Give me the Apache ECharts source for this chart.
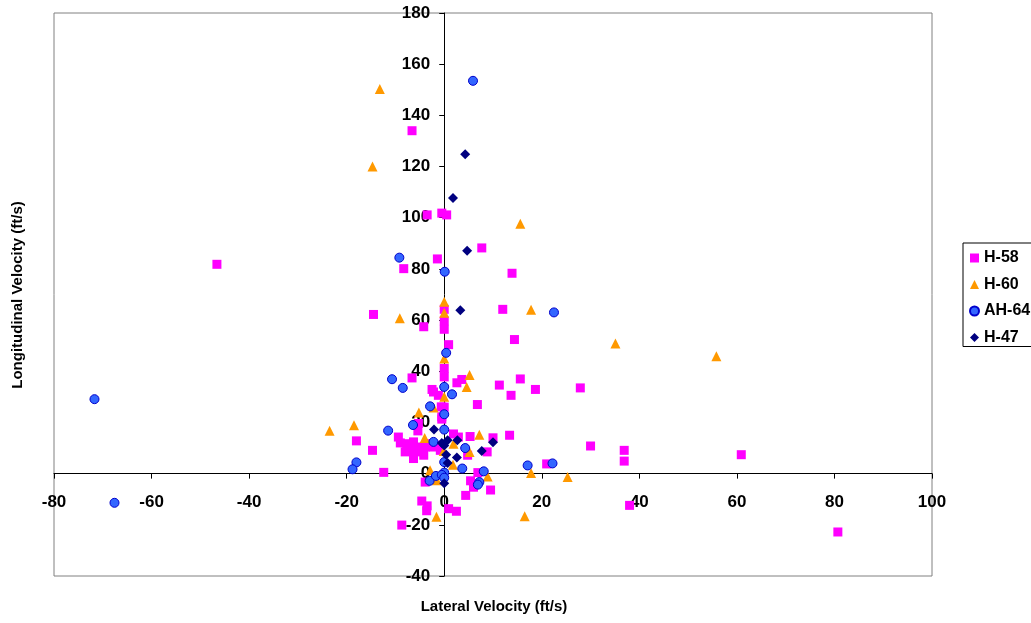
<!DOCTYPE html>
<html>
<head>
<meta charset="utf-8">
<script src="https://cdn.jsdelivr.net/npm/echarts@6/dist/echarts.min.js"></script>
<style>
html,body{margin:0;padding:0;background:#fff;}
#chart{width:1031px;height:623px;}
</style>
</head>
<body>
<div id="chart"></div>
<script>
// Tick settings
const xTicks = { min: -80, max: 100, interval: 20 };
const yTicks = { min: -40, max: 180, interval: 20 };
const seriesNames = ['H-58', 'H-60', 'AH-64', 'H-47'];
const xTitle = 'Lateral Velocity (ft/s)';
const yTitle = 'Longitudinal Velocity (ft/s)';

// [lateral, longitudinal]
const h58 = [
  [-6.6,134],[-46.6,81.8],[-3.5,101.1],[-0.5,101.8],[0.5,101.1],[7.7,88.2],[-1.4,83.9],[-8.3,80.1],[13.9,78.3],
  [12,64.2],[0,64.2],[-14.5,62.2],[0,59.7],[0,56.4],[-4.2,57.4],[0.9,50.4],[14.4,52.4],[0,41.1],[0,37.8],
  [3.6,36.8],[2.6,35.5],[-6.6,37.4],[15.6,37],[11.3,34.6],[-2.5,32.9],[-1.2,30.6],[-2.2,31.9],[13.7,30.6],
  [18.7,32.9],[27.9,33.5],[6.8,27],[-0.6,26.1],[0,26],[-0.5,22.2],[-0.5,21.3],[-5.3,19.6],[-5.4,16.7],[-18,12.8],
  [-9.4,14.3],[-9,12],[-14.7,9.1],[1.9,15.5],[2.9,14.3],[5.3,14.5],[10,14],[13.4,15],[-7.7,11.7],[-6.3,12.4],
  [-5.6,10.4],[-7,9.8],[-8,8.5],[-6.3,7.2],[-5.1,8.5],[-3.9,10.4],[-3.5,11.7],[-2.2,10.4],[-1.2,11.1],[-0.8,9.1],
  [-4.2,7.2],[8.8,8.5],[4.8,7.2],[-6.3,5.9],[-12.4,0.5],[6.9,0.4],[21,3.8],[30,10.8],[36.9,9.1],[36.9,4.9],
  [60.9,7.4],[-3.9,-3.3],[5.4,-2.8],[6,-5.3],[9.5,-6.4],[4.4,-8.5],[-4.6,-10.7],[-3.5,-12.6],[-3.6,-14.5],
  [0.9,-13.7],[2.5,-14.7],[38,-12.4],[80.7,-22.8],[-8.7,-20.1]
];
const h60 = [
  [-13.2,150.3],[-14.7,120],[15.6,97.6],[0,67.2],[0,62.9],[17.8,64],[-9.1,60.7],[0,45],[5.2,38.5],[4.6,33.9],
  [0,30],[-2.2,25.8],[-5.2,23.9],[-18.5,18.9],[-23.5,16.8],[35.1,50.9],[55.8,45.9],[-4,13.9],[7.2,15.2],
  [1.9,11.7],[5.2,8.5],[-0.1,8.8],[1.8,3.5],[-2.9,1.3],[17.8,0.2],[8.9,-1.1],[25.3,-1.3],[-1.5,-2.6],
  [-1.6,-16.8],[16.5,-16.7]
];
const ah64 = [
  [5.9,153.5],[-9.2,84.4],[0.1,78.9],[22.5,63],[0.4,47.2],[-10.7,36.9],[-8.5,33.5],[0,33.9],[1.6,31],
  [-2.9,26.3],[0,23.2],[-6.4,19],[-11.5,16.8],[0,17.2],[-2.2,12.4],[4.3,10],[0,4.5],[3.7,2],[17.1,3.2],
  [22.2,4],[-18,4.4],[-18.8,1.7],[8.1,0.9],[0,0.4],[-3,-2.8],[-1.7,-0.9],[-0.5,-0.5],[0,-1.6],[7.2,-3.3],
  [6.9,-4.3],[-71.7,29.1],[-67.6,-11.4]
];
const h47 = [
  [4.3,124.8],[1.8,107.7],[4.7,87.1],[3.3,63.8],[-2.1,17.2],[-0.5,12],[0.7,13],[0,11],[2.7,13],[10,12.3],
  [7.7,8.8],[0.4,7.4],[2.6,6.3],[0.7,4.2],[0,-3.8]
];

const chart = echarts.init(document.getElementById('chart'), null, { renderer: 'canvas' });
const FONT = 'Liberation Sans, Arial, sans-serif';

chart.setOption({
  animation: false,
  backgroundColor: '#fff',
  grid: { left: 54, right: 99, top: 13, bottom: 47, show: true, borderColor: '#808080', borderWidth: 1, containLabel: false },
  xAxis: {
    type: 'value', min: xTicks.min, max: xTicks.max, interval: xTicks.interval,
    axisLine: { onZero: false, lineStyle: { color: '#000', width: 1 } },
    axisTick: { show: true, inside: false, length: 5, lineStyle: { color: '#000' } },
    axisLabel: { color: '#000', fontFamily: FONT, fontWeight: 'bold', fontSize: 17, margin: 20 },
    splitLine: { show: false }
  },
  yAxis: {
    type: 'value', min: yTicks.min, max: yTicks.max, interval: yTicks.interval,
    axisLine: { onZero: false, lineStyle: { color: '#000', width: 1 } },
    axisTick: { show: true, inside: false, length: 5, lineStyle: { color: '#000' } },
    axisLabel: { color: '#000', fontFamily: FONT, fontWeight: 'bold', fontSize: 17, margin: 14 },
    splitLine: { show: false }
  },
  legend: {
    orient: 'vertical', left: 963, top: 243,
    padding: [7, 30, 1, 6],
    borderColor: '#000', borderWidth: 1,
    itemWidth: 9, itemHeight: 9, itemGap: 10.5,
    textStyle: { color: '#000', fontFamily: FONT, fontWeight: 'bold', fontSize: 16, lineHeight: 16 },
    data: seriesNames
  },
  graphic: [
    { type: 'text', style: { text: yTitle, font: 'bold 15px ' + FONT, fill: '#000', textAlign: 'center', textVerticalAlign: 'middle' },
      x: 18, y: 295, rotation: Math.PI / 2 },
    { type: 'text', style: { text: xTitle, font: 'bold 15px ' + FONT, fill: '#000', textAlign: 'center', textVerticalAlign: 'middle' },
      x: 494, y: 607 }
  ],
  series: [
    { name: seriesNames[0], type: 'scatter', data: h58, symbol: 'rect', symbolSize: 9,
      itemStyle: { color: '#FF00FF', opacity: 1 } },
    { name: seriesNames[1], type: 'scatter', data: h60, symbol: 'triangle', symbolSize: 10,
      itemStyle: { color: '#FF9900', opacity: 1 } },
    { name: seriesNames[2], type: 'scatter', data: ah64, symbol: 'circle', symbolSize: 9,
      itemStyle: { color: '#3366FF', borderColor: '#0000CC', borderWidth: 1, opacity: 1 } },
    { name: seriesNames[3], type: 'scatter', data: h47, symbol: 'diamond', symbolSize: 10,
      itemStyle: { color: '#000080', opacity: 1 } }
  ]
});

// Move each axis (line, ticks and labels) onto the other axis's zero, using the library's scales.
const yZeroPx = chart.convertToPixel({ yAxisIndex: 0 }, 0);
const yMinPx = chart.convertToPixel({ yAxisIndex: 0 }, yTicks.min);
const xZeroPx = chart.convertToPixel({ xAxisIndex: 0 }, 0);
const xMinPx = chart.convertToPixel({ xAxisIndex: 0 }, xTicks.min);
chart.setOption({
  xAxis: { offset: yZeroPx - yMinPx },
  yAxis: { offset: xMinPx - xZeroPx }
});
</script>
</body>
</html>
